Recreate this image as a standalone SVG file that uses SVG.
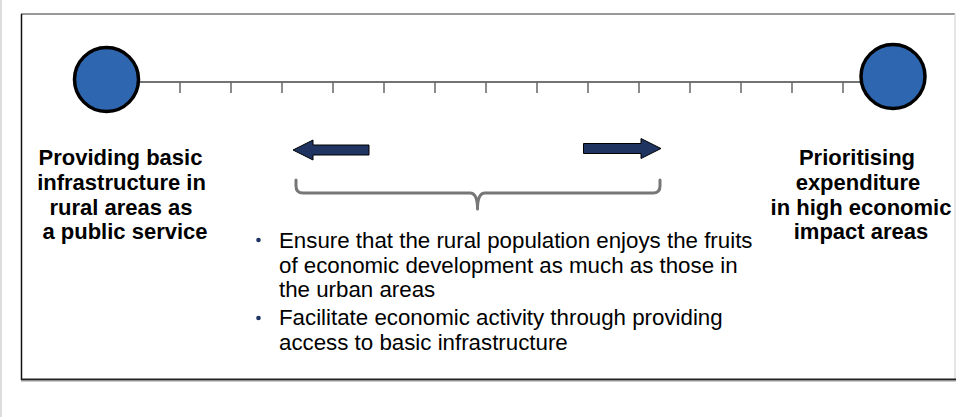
<svg xmlns="http://www.w3.org/2000/svg" width="956" height="417" viewBox="0 0 956 417">
<style>
.lbl{font-family:"Liberation Sans",Arial,sans-serif;font-weight:bold;font-size:22px;fill:#000;text-anchor:middle}
.txt{font-family:"Liberation Sans",Arial,sans-serif;font-size:22.3px;fill:#000}
.node{fill:#2E66B0;stroke:#000;stroke-width:3.5}
.tick{stroke:#666;stroke-width:1.5}
.arrow{fill:#1F3461;stroke:#000;stroke-width:1}
</style>
<rect width="956" height="417" fill="#fff"/>
<line x1="1" y1="0" x2="1" y2="417" stroke="#ddd" stroke-width="2"/>
<g id="frame">
<line x1="21" y1="14" x2="955" y2="14" stroke="#777" stroke-width="1.5"/>
<line x1="955" y1="14" x2="955" y2="379" stroke="#ddd" stroke-width="1.5"/>
<line x1="21.5" y1="14" x2="21.5" y2="380" stroke="#111" stroke-width="1.5"/>
<line x1="21" y1="379.5" x2="956" y2="379.5" stroke="#222" stroke-width="1.8"/>
<line x1="21" y1="381.5" x2="956" y2="381.5" stroke="#ccc" stroke-width="1"/>
</g>
<g id="connectors">
<line x1="138" y1="82" x2="862" y2="82" stroke="#444" stroke-width="1.5"/>
<g class="tick">
<line x1="180" y1="82" x2="180" y2="93"/><line x1="231" y1="82" x2="231" y2="93"/><line x1="282" y1="82" x2="282" y2="93"/><line x1="333" y1="82" x2="333" y2="93"/><line x1="384" y1="82" x2="384" y2="93"/><line x1="435" y1="82" x2="435" y2="93"/><line x1="486" y1="82" x2="486" y2="93"/><line x1="537" y1="82" x2="537" y2="93"/><line x1="588" y1="82" x2="588" y2="93"/><line x1="639" y1="82" x2="639" y2="93"/><line x1="690" y1="82" x2="690" y2="93"/><line x1="741" y1="82" x2="741" y2="93"/><line x1="792" y1="82" x2="792" y2="93"/><line x1="843" y1="82" x2="843" y2="93"/>
</g>
<polygon id="arrow-left" class="arrow" points="293,150 313,140 313,145 369,145 369,155 313,155 313,160"/>
<polygon id="arrow-right" class="arrow" points="661,148.5 641,138.5 641,143.5 583.5,143.5 583.5,153.5 641,153.5 641,158.5"/>
<path id="brace" d="M296,180 L296,186 Q296,193 303,193 L470,193 Q477.5,193 477.5,209 Q477.5,193 485,193 L653,193 Q660,193 660,186 L660,180" fill="none" stroke="#777" stroke-width="3" stroke-linecap="round" stroke-linejoin="round"/>
</g>
<g id="node-left">
<circle class="node" cx="106.5" cy="79.5" r="32"/>
<text class="lbl"><tspan x="120.5" y="165">Providing basic</tspan><tspan x="121.5" y="190">infrastructure in</tspan><tspan x="121" y="214.5">rural areas as</tspan><tspan x="125" y="239">a public service</tspan></text>
</g>
<g id="node-right">
<circle class="node" cx="893" cy="76.5" r="32"/>
<text class="lbl"><tspan x="857" y="165">Prioritising</tspan><tspan x="858" y="190">expenditure</tspan><tspan x="861" y="214.5">in high economic</tspan><tspan x="861" y="239">impact areas</tspan></text>
</g>
<g id="bullets">
<circle cx="258.5" cy="240" r="2.3" fill="#1F3461"/>
<circle cx="258.5" cy="318" r="2.3" fill="#1F3461"/>
<text class="txt"><tspan x="279" y="248">Ensure that the rural population enjoys the fruits</tspan><tspan x="279" y="272.5">of economic development as much as those in</tspan><tspan x="279" y="297">the urban areas</tspan><tspan x="279" y="325">Facilitate economic activity through providing</tspan><tspan x="279" y="349.5">access to basic infrastructure</tspan></text>
</g>
</svg>
